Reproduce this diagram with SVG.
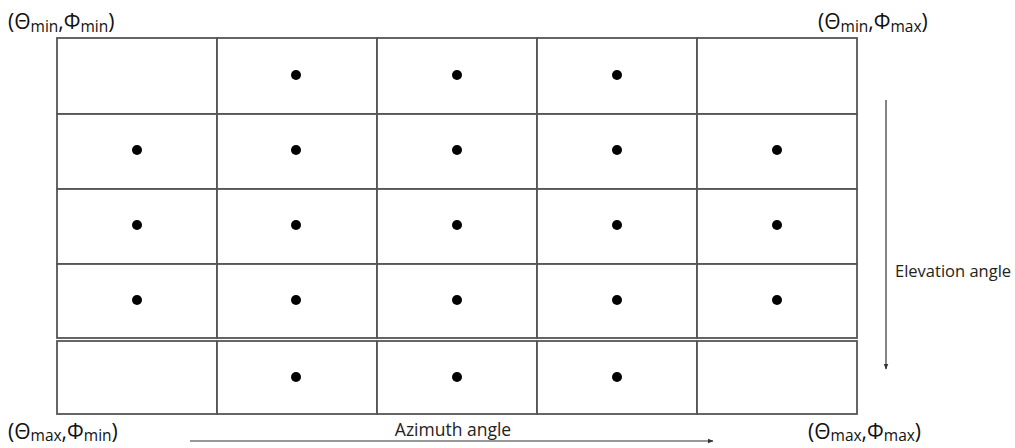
<svg xmlns="http://www.w3.org/2000/svg" width="1015" height="448" viewBox="0 0 1015 448">
<defs>
<style>
.cell{fill:#fff;stroke:#555;stroke-width:1.8}
.dot{fill:#000}
.lbl{font-family:"Open Sans","Noto Sans",sans-serif;font-size:21px;fill:#111}
.sub{font-size:15.5px}
.ax{font-family:"Open Sans","Noto Sans",sans-serif;fill:#222}
.arr{stroke:#333;stroke-width:1.2;fill:none}
</style>
<marker id="ah" viewBox="0 0 10 10" refX="9" refY="5" markerWidth="6" markerHeight="6" orient="auto" markerUnits="userSpaceOnUse">
<path d="M0,1 L10,5 L0,9 z" fill="#333"/>
</marker>
</defs>
<rect width="1015" height="448" fill="#fff"/>
<g id="grid">
<rect class="cell" x="57" y="38" width="160" height="76"/>
<rect class="cell" x="217" y="38" width="160" height="76"/>
<rect class="cell" x="377" y="38" width="160" height="76"/>
<rect class="cell" x="537" y="38" width="160" height="76"/>
<rect class="cell" x="697" y="38" width="160" height="76"/>
<rect class="cell" x="57" y="114" width="160" height="75"/>
<rect class="cell" x="217" y="114" width="160" height="75"/>
<rect class="cell" x="377" y="114" width="160" height="75"/>
<rect class="cell" x="537" y="114" width="160" height="75"/>
<rect class="cell" x="697" y="114" width="160" height="75"/>
<rect class="cell" x="57" y="189" width="160" height="75"/>
<rect class="cell" x="217" y="189" width="160" height="75"/>
<rect class="cell" x="377" y="189" width="160" height="75"/>
<rect class="cell" x="537" y="189" width="160" height="75"/>
<rect class="cell" x="697" y="189" width="160" height="75"/>
<rect class="cell" x="57" y="264" width="160" height="74"/>
<rect class="cell" x="217" y="264" width="160" height="74"/>
<rect class="cell" x="377" y="264" width="160" height="74"/>
<rect class="cell" x="537" y="264" width="160" height="74"/>
<rect class="cell" x="697" y="264" width="160" height="74"/>
<rect class="cell" x="57" y="341" width="160" height="73"/>
<rect class="cell" x="217" y="341" width="160" height="73"/>
<rect class="cell" x="377" y="341" width="160" height="73"/>
<rect class="cell" x="537" y="341" width="160" height="73"/>
<rect class="cell" x="697" y="341" width="160" height="73"/>
</g>
<g id="dots">
<circle class="dot" cx="296" cy="75" r="5"/>
<circle class="dot" cx="457" cy="75" r="5"/>
<circle class="dot" cx="617" cy="75" r="5"/>
<circle class="dot" cx="137" cy="150" r="5"/>
<circle class="dot" cx="296" cy="150" r="5"/>
<circle class="dot" cx="457" cy="150" r="5"/>
<circle class="dot" cx="617" cy="150" r="5"/>
<circle class="dot" cx="777" cy="150" r="5"/>
<circle class="dot" cx="137" cy="225" r="5"/>
<circle class="dot" cx="296" cy="225" r="5"/>
<circle class="dot" cx="457" cy="225" r="5"/>
<circle class="dot" cx="617" cy="225" r="5"/>
<circle class="dot" cx="777" cy="225" r="5"/>
<circle class="dot" cx="137" cy="300" r="5"/>
<circle class="dot" cx="296" cy="300" r="5"/>
<circle class="dot" cx="457" cy="300" r="5"/>
<circle class="dot" cx="617" cy="300" r="5"/>
<circle class="dot" cx="777" cy="300" r="5"/>
<circle class="dot" cx="296" cy="377" r="5"/>
<circle class="dot" cx="457" cy="377" r="5"/>
<circle class="dot" cx="617" cy="377" r="5"/>
</g>
<g id="connectors">
<line class="arr" x1="886" y1="100" x2="886" y2="369" marker-end="url(#ah)"/>
<line class="arr" x1="190" y1="441" x2="713" y2="441" marker-end="url(#ah)"/>
</g>
<g id="labels">
<text class="lbl" x="8" y="29">(Θ<tspan class="sub" dy="3">min</tspan><tspan dy="-3">,Φ</tspan><tspan class="sub" dy="3">min</tspan><tspan dy="-3">)</tspan></text>
<text class="lbl" x="818" y="29">(Θ<tspan class="sub" dy="3">min</tspan><tspan dy="-3">,Φ</tspan><tspan class="sub" dy="3">max</tspan><tspan dy="-3">)</tspan></text>
<text class="lbl" x="8" y="439">(Θ<tspan class="sub" dy="2">max</tspan><tspan dy="-2">,Φ</tspan><tspan class="sub" dy="2">min</tspan><tspan dy="-2">)</tspan></text>
<text class="lbl" x="808" y="439">(Θ<tspan class="sub" dy="2">max</tspan><tspan dy="-2">,Φ</tspan><tspan class="sub" dy="2">max</tspan><tspan dy="-2">)</tspan></text>
<text class="ax" x="895" y="277" font-size="16.5">Elevation angle</text>
<text class="ax" x="453" y="436" font-size="17.5" text-anchor="middle">Azimuth angle</text>
</g>
</svg>
